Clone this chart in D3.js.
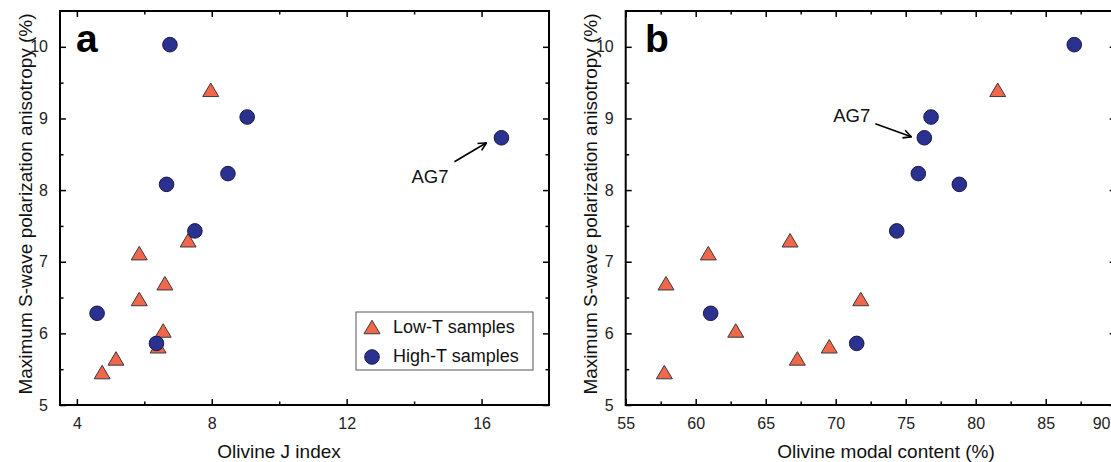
<!DOCTYPE html>
<html>
<head>
<meta charset="utf-8">
<script src="https://cdn.jsdelivr.net/npm/d3@7"></script>
<style>
  html, body { margin: 0; padding: 0; background: #fff; }
  svg { display: block; font-family: "Liberation Sans", Arial, sans-serif; }
</style>
</head>
<body>
<svg id="chart" width="1111" height="462"></svg>
<script>
// ---- Data ----
const lowJ     = [7.97, 5.85, 7.30, 6.61, 5.85, 6.56, 6.41, 5.16, 4.75];
const lowModal = [81.57, 60.9, 66.74, 57.88, 71.79, 62.86, 69.54, 67.26, 57.76];
const lowAniso = [9.40, 7.12, 7.30, 6.70, 6.48, 6.04, 5.82, 5.65, 5.46];

const highJ     = [6.76, 9.05, 6.66, 8.48, 7.50, 4.60, 6.36, 16.59];
const highModal = [87.04, 76.81, 78.83, 75.9, 74.36, 61.07, 71.5, 76.33];
const highAniso = [10.03, 9.02, 8.08, 8.23, 7.43, 6.28, 5.86, 8.73];

const xTicksA = [4, 8, 12, 16];
const xMinorA = [6, 10, 14];
const xTicksB = [55, 60, 65, 70, 75, 80, 85, 90];
const xMinorB = [57.5, 62.5, 67.5, 72.5, 77.5, 82.5, 87.5];
const yTicks = [5, 6, 7, 8, 9, 10];
const yMinor = [5.5, 6.5, 7.5, 8.5, 9.5];

const yTitle = "Maximum S-wave polarization anisotropy (%)";
const seriesNames = ["Low-T samples", "High-T samples"];
const annotation = "AG7";

// ---- Styles ----
const W = 1111;
const lowColor = "#F0674C", highColor = "#2A3190", markStroke = "#3a3a3a";
const svg = d3.select("#chart");

function trianglePath(w, h) {
  return `M0,${-h/2}L${w/2},${h/2}L${-w/2},${h/2}Z`;
}

function panel(opts) {
  const { x0, x1, y0, y1, xDomain, xTicks, xMinor, lowX, highX, label, labelX, xTitle, xTitleX, yTitleX } = opts;
  const x = d3.scaleLinear().domain(xDomain).range([x0, x1]);
  const y = d3.scaleLinear().domain([5, 10.5]).range([y1, y0]);
  const g = svg.append("g");

  const tickStyle = sel => {
    sel.select(".domain").remove();
    sel.selectAll("line").attr("stroke", "#000").attr("stroke-width", 1.5);
    sel.selectAll("text").attr("fill", "#222").style("font-size", "16px");
  };

  // major ticks (inward) with labels
  const bx = g.append("g").attr("transform", `translate(0,${y1})`)
    .call(d3.axisBottom(x).tickValues(xTicks).tickSizeInner(-6).tickSizeOuter(0).tickPadding(13).tickFormat(d3.format("d")))
    .call(tickStyle);
  // keep edge labels inside the picture
  bx.selectAll(".tick text").each(function(d) {
    const t = d3.select(this);
    if (x(d) + 10 > W) t.attr("text-anchor", "end").attr("x", W - 1 - x(d));
  });
  g.append("g").attr("transform", `translate(0,${y1})`)
    .call(d3.axisBottom(x).tickValues(xMinor).tickSizeInner(-3.5).tickSizeOuter(0).tickFormat(""))
    .call(tickStyle);
  g.append("g").attr("transform", `translate(0,${y0})`)
    .call(d3.axisTop(x).tickValues(xTicks).tickSizeInner(-6).tickSizeOuter(0).tickFormat(""))
    .call(tickStyle);
  g.append("g").attr("transform", `translate(0,${y0})`)
    .call(d3.axisTop(x).tickValues(xMinor).tickSizeInner(-3.5).tickSizeOuter(0).tickFormat(""))
    .call(tickStyle);

  g.append("g").attr("transform", `translate(${x0},0)`)
    .call(d3.axisLeft(y).tickValues(yTicks).tickSizeInner(-6).tickSizeOuter(0).tickPadding(12).tickFormat(d3.format("d")))
    .call(tickStyle);
  g.append("g").attr("transform", `translate(${x0},0)`)
    .call(d3.axisLeft(y).tickValues(yMinor).tickSizeInner(-3.5).tickSizeOuter(0).tickFormat(""))
    .call(tickStyle);
  g.append("g").attr("transform", `translate(${x1},0)`)
    .call(d3.axisRight(y).tickValues(yTicks).tickSizeInner(-6).tickSizeOuter(0).tickFormat(""))
    .call(tickStyle);
  g.append("g").attr("transform", `translate(${x1},0)`)
    .call(d3.axisRight(y).tickValues(yMinor).tickSizeInner(-3.5).tickSizeOuter(0).tickFormat(""))
    .call(tickStyle);

  // frame
  g.append("rect").attr("x", x0).attr("y", y0).attr("width", x1 - x0).attr("height", y1 - y0)
    .attr("fill", "none").attr("stroke", "#000").attr("stroke-width", 2);

  // panel label
  g.append("text").attr("x", labelX).attr("y", 52).text(label)
    .style("font-size", "39px").style("font-weight", "bold").attr("fill", "#000");

  // axis titles
  g.append("text").attr("x", xTitleX).attr("y", 458).attr("text-anchor", "middle")
    .style("font-size", "19px").attr("fill", "#111").text(xTitle);
  g.append("text").attr("transform", `translate(${yTitleX},${(y0 + y1) / 2 - 4}) rotate(-90)`)
    .attr("text-anchor", "middle").style("font-size", "19px").attr("fill", "#111").text(yTitle);

  // marks: triangles
  g.selectAll(".low").data(lowX.map((v, i) => [v, lowAniso[i]])).enter().append("path")
    .attr("d", trianglePath(16, 13.5))
    .attr("transform", d => `translate(${x(d[0])},${y(d[1])})`)
    .attr("fill", lowColor).attr("stroke", markStroke).attr("stroke-width", 1);
  // circles
  g.selectAll(".high").data(highX.map((v, i) => [v, highAniso[i]])).enter().append("circle")
    .attr("cx", d => x(d[0])).attr("cy", d => y(d[1])).attr("r", 7.3)
    .attr("fill", highColor).attr("stroke", "#1a1a40").attr("stroke-width", 1);

  return { x, y, g };
}

const A = panel({ x0: 60, x1: 549, y0: 11, y1: 405, xDomain: [3.5, 18], xTicks: xTicksA, xMinor: xMinorA,
  lowX: lowJ, highX: highJ, label: "a", labelX: 76, xTitle: "Olivine J index", xTitleX: 279, yTitleX: 32 });
const B = panel({ x0: 625.7, x1: 1115.7, y0: 11, y1: 405, xDomain: [55, 90], xTicks: xTicksB, xMinor: xMinorB,
  lowX: lowModal, highX: highModal, label: "b", labelX: 645, xTitle: "Olivine modal content (%)", xTitleX: 886, yTitleX: 597 });

// arrow marker
svg.append("defs").append("marker").attr("id", "arr").attr("viewBox", "0 0 10 10")
  .attr("refX", 9).attr("refY", 5).attr("markerWidth", 10).attr("markerHeight", 10)
  .attr("markerUnits", "userSpaceOnUse").attr("orient", "auto")
  .append("path").attr("d", "M1,1L9,5L1,9").attr("fill", "none").attr("stroke", "#000").attr("stroke-width", 1.6);

// AG7 annotations
const ag7 = highJ.length - 1;
function annotate(P, tx, ty, anchor, sx, sy, ex, ey) {
  P.g.append("text").attr("x", tx).attr("y", ty).attr("text-anchor", anchor)
    .style("font-size", "18.5px").attr("fill", "#111").text(annotation);
  P.g.append("line").attr("x1", sx).attr("y1", sy).attr("x2", ex).attr("y2", ey)
    .attr("stroke", "#000").attr("stroke-width", 1.6).attr("marker-end", "url(#arr)");
}
{
  const cx = A.x(highJ[ag7]), cy = A.y(highAniso[ag7]);
  annotate(A, cx - 90, cy + 45, "start", cx - 47, cy + 24, cx - 15, cy + 5);
}
{
  const cx = B.x(highModal[ag7]), cy = B.y(highAniso[ag7]);
  annotate(B, cx - 54, cy - 16, "end", cx - 49, cy - 14, cx - 13, cy - 1);
}

// Legend (panel a)
const leg = svg.append("g");
leg.append("rect").attr("x", 356).attr("y", 312).attr("width", 177).attr("height", 58)
  .attr("fill", "#fff").attr("stroke", "#555").attr("stroke-width", 1);
leg.append("path").attr("d", trianglePath(16, 13.5)).attr("transform", "translate(372,327)")
  .attr("fill", lowColor).attr("stroke", markStroke);
leg.append("circle").attr("cx", 372).attr("cy", 357).attr("r", 7.3)
  .attr("fill", highColor).attr("stroke", "#1a1a40");
leg.selectAll(".lt").data(seriesNames).enter().append("text")
  .attr("x", 393).attr("y", (d, i) => 333 + i * 29).style("font-size", "18px").attr("fill", "#111").text(d => d);
</script>
</body>
</html>
